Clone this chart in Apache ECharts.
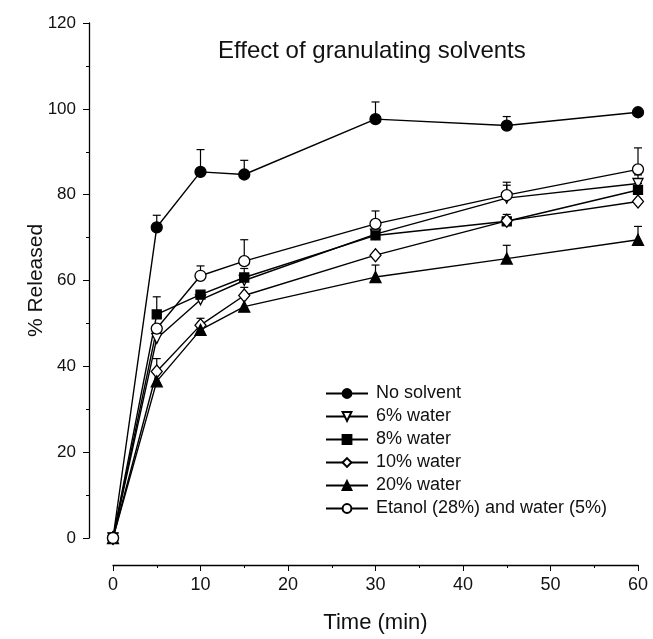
<!DOCTYPE html>
<html>
<head>
<meta charset="utf-8">
<script src="https://cdn.jsdelivr.net/npm/echarts@6/dist/echarts.min.js"></script>
<style>
  html, body { margin: 0; padding: 0; background: #fff; }
  #chart { width: 653px; height: 639px; }
</style>
</head>
<body>
<div id="chart"></div>
<script>
// sampling times (min)
const time = [0, 5, 10, 15, 30, 45, 60];

// % released, with upper error bars
const noSolvent    = [0, 72.4, 85.3, 84.7, 97.6, 96.1, 99.2];
const noSolventErr = [0, 2.8, 5.2, 3.3, 4.0, 2.1, 0];
const water6       = [0, 46.5, 55.5, 60.0, 70.8, 79.2, 82.6];
const water6Err    = [0, 0, 1.5, 0, 0, 3.0, 2.0];
const water8       = [0, 52.1, 56.7, 60.7, 70.5, 73.8, 81.1];
const water8Err    = [0, 4.1, 0, 2.1, 0, 0, 1.5];
const water10      = [0, 38.8, 49.6, 56.5, 65.9, 73.9, 78.4];
const water10Err   = [0, 3.0, 1.6, 1.9, 0, 1.5, 0];
const water20      = [0, 36.5, 48.5, 53.9, 60.8, 65.1, 69.5];
const water20Err   = [0, 0, 0, 0, 2.8, 3.1, 3.1];
const etanol       = [0, 48.8, 61.1, 64.5, 73.2, 79.9, 85.9];
const etanolErr    = [0, 0, 2.3, 5.0, 3.0, 3.0, 5.0];

const names = ['No solvent', '6% water', '8% water', '10% water', '20% water', 'Etanol (28%) and water (5%)'];

const FONT = 'Liberation Sans, Arial, Helvetica, sans-serif';
const INK = '#000';

const lines = [
  { name: names[0], y: noSolvent, err: noSolventErr, symbol: 'circle', size: 11, fill: INK },
  { name: names[1], y: water6, err: water6Err, symbol: 'triangle', size: 10, fill: '#fff', rotate: 180 },
  { name: names[2], y: water8, err: water8Err, symbol: 'rect', size: 9, fill: INK },
  { name: names[3], y: water10, err: water10Err, symbol: 'diamond', size: [11, 13], fill: '#fff' },
  { name: names[4], y: water20, err: water20Err, symbol: 'triangle', size: 11, fill: INK },
  { name: names[5], y: etanol, err: etanolErr, symbol: 'circle', size: 11, fill: '#fff' }
];

function errorBars(params, api) {
  const e = api.value(2);
  if (!e) return;
  const p0 = api.coord([api.value(0), api.value(1)]);
  const p1 = api.coord([api.value(0), api.value(1) + e]);
  const st = { stroke: INK, lineWidth: 1.2 };
  return {
    type: 'group',
    children: [
      { type: 'line', shape: { x1: p0[0], y1: p0[1], x2: p1[0], y2: p1[1] }, style: st },
      { type: 'line', shape: { x1: p1[0] - 4, y1: p1[1], x2: p1[0] + 4, y2: p1[1] }, style: st }
    ]
  };
}

const series = [];
lines.forEach(s => {
  series.push({
    type: 'custom',
    name: s.name + ' err',
    renderItem: errorBars,
    data: time.map((t, i) => [t, s.y[i], s.err[i]]),
    z: 1,
    silent: true
  });
});
lines.forEach(s => {
  series.push({
    type: 'line',
    name: s.name,
    data: time.map((t, i) => [t, s.y[i]]),
    symbol: s.symbol,
    symbolSize: s.size,
    symbolRotate: s.rotate || 0,
    showAllSymbol: true,
    lineStyle: { color: INK, width: 1.4 },
    itemStyle: { color: s.fill, borderColor: INK, borderWidth: 1.3 },
    z: 3,
    animation: false
  });
});

const chart = echarts.init(document.getElementById('chart'));
chart.setOption({
  backgroundColor: '#fff',
  animation: false,
  title: {
    text: 'Effect of granulating solvents',
    left: 213,
    top: 34,
    textStyle: { fontFamily: FONT, fontSize: 24, fontWeight: 'normal', color: '#111' }
  },
  legend: {
    data: names,
    orient: 'vertical',
    left: 320,
    top: 379,
    itemWidth: 42,
    itemHeight: 11,
    itemGap: 4,
    textStyle: { fontFamily: FONT, fontSize: 18, lineHeight: 19, color: '#111', padding: [0, 0, 0, 3] }
  },
  grid: { left: 113, right: 15, top: 23, bottom: 96 },
  xAxis: {
    type: 'value',
    min: 0, max: 60, interval: 10,
    offset: 27,
    name: 'Time (min)',
    nameLocation: 'middle',
    nameGap: 47,
    nameMoveOverlap: false,
    nameTextStyle: { fontFamily: FONT, fontSize: 22, color: '#111' },
    axisLine: { show: true, onZero: false, lineStyle: { color: INK, width: 1.3 } },
    axisTick: { show: true, length: 6, lineStyle: { color: INK } },
    minorTick: { show: true, splitNumber: 2, length: 3, lineStyle: { color: INK } },
    axisLabel: { fontFamily: FONT, fontSize: 18, color: '#111', margin: 11 },
    splitLine: { show: false }
  },
  yAxis: {
    type: 'value',
    min: 0, max: 120, interval: 20,
    offset: 24,
    name: '% Released',
    nameLocation: 'middle',
    nameRotate: 90,
    nameGap: 42,
    nameMoveOverlap: false,
    nameTextStyle: { fontFamily: FONT, fontSize: 21, color: '#111' },
    axisLine: { show: true, onZero: false, lineStyle: { color: INK, width: 1.3 } },
    axisTick: { show: true, length: 6, lineStyle: { color: INK } },
    minorTick: { show: true, splitNumber: 2, length: 3, lineStyle: { color: INK } },
    axisLabel: { fontFamily: FONT, fontSize: 17, color: '#111', margin: 13 },
    splitLine: { show: false }
  },
  series: series
});
</script>
</body>
</html>
